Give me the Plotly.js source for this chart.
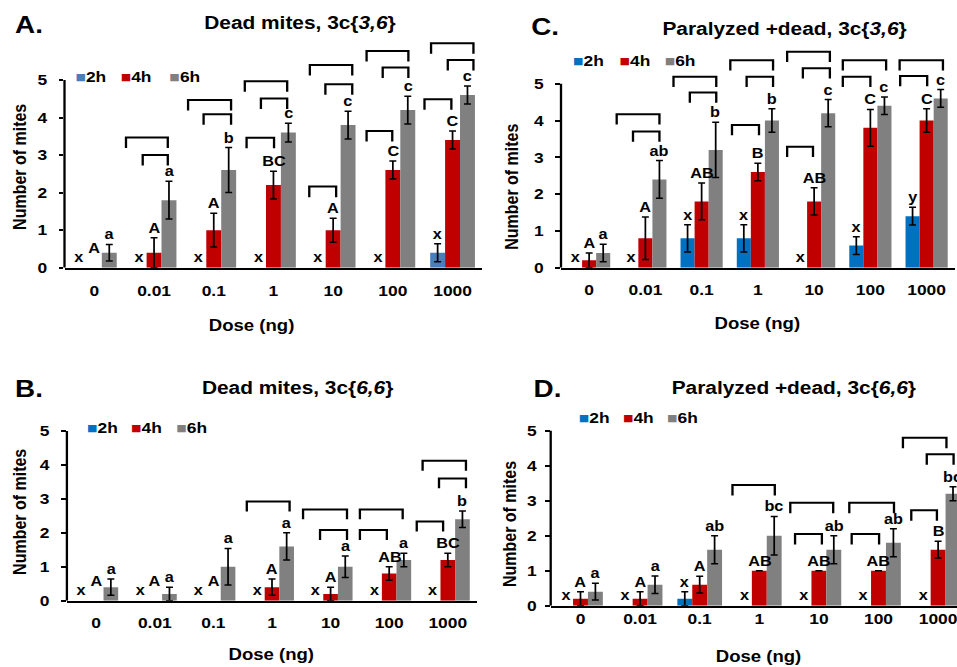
<!DOCTYPE html>
<html><head><meta charset="utf-8">
<script src="https://cdn.plot.ly/plotly-3.0.1.min.js"></script>
<style>
html,body{margin:0;padding:0;overflow:hidden;background:#fff}
#wrap{width:957px;height:667px;overflow:hidden}
#chart{width:825px;height:667px;transform:scaleX(1.16);transform-origin:0 0}
</style></head><body><div id="wrap"><div id="chart"></div></div>
<script>
// ---------- data ----------
const doses = ['0','0.01','0.1','1','10','100','1000'];
const seriesNames = ['2h','4h','6h'];

// A. Dead mites, 3c{3,6}
const A_2h = [0,0,0,0,0,0,0.4];
const A_2h_err = [0,0,0,0,0,0,0.24];
const A_4h = [0,0.4,1.0,2.2,1.0,2.6,3.4];
const A_4h_err = [0,0.4,0.45,0.37,0.32,0.24,0.24];
const A_6h = [0.4,1.8,2.6,3.6,3.8,4.2,4.6];
const A_6h_err = [0.22,0.5,0.6,0.25,0.37,0.37,0.24];
const A_lab2 = ['x','x','x','x','x','x','x'];
const A_lab4 = ['A','A','A','BC','A','C','C'];
const A_lab6 = ['a','a','b','c','c','c','c'];

// B. Dead mites, 3c{6,6}
const B_2h = [0,0,0,0,0,0,0];
const B_2h_err = [0,0,0,0,0,0,0];
const B_4h = [0,0,0,0.4,0.2,0.8,1.2];
const B_4h_err = [0,0,0,0.24,0.2,0.2,0.2];
const B_6h = [0.4,0.2,1.0,1.6,1.0,1.2,2.4];
const B_6h_err = [0.24,0.2,0.54,0.4,0.32,0.2,0.24];
const B_lab2 = ['x','x','x','x','x','x','x'];
const B_lab4 = ['A','A','A','A','A','AB','BC'];
const B_lab6 = ['a','a','a','a','a','a','b'];

// C. Paralyzed +dead, 3c{3,6}
const C_2h = [0,0,0.8,0.8,0,0.6,1.4];
const C_2h_err = [0,0,0.37,0.37,0,0.24,0.24];
const C_4h = [0.2,0.8,1.8,2.6,1.8,3.8,4.0];
const C_4h_err = [0.2,0.58,0.5,0.24,0.37,0.5,0.32];
const C_6h = [0.4,2.4,3.2,4.0,4.2,4.4,4.6];
const C_6h_err = [0.24,0.51,0.75,0.32,0.37,0.24,0.24];
const C_lab2 = ['x','x','x','x','x','x','y'];
const C_lab4 = ['A','A','AB','B','AB','C','C'];
const C_lab6 = ['a','ab','b','b','c','c','c'];

// D. Paralyzed +dead, 3c{6,6}
const D_2h = [0,0,0.2,0,0,0,0];
const D_2h_err = [0,0,0.2,0,0,0,0];
const D_4h = [0.2,0.2,0.6,1.0,1.0,1.0,1.6];
const D_4h_err = [0.2,0.2,0.24,0,0,0,0.24];
const D_6h = [0.4,0.6,1.6,2.0,1.6,1.8,3.2];
const D_6h_err = [0.24,0.25,0.4,0.55,0.4,0.4,0.2];
const D_lab2 = ['x','x','x','x','x','x','x'];
const D_lab4 = ['A','A','A','AB','AB','AB','B'];
const D_lab6 = ['a','a','ab','bc','ab','ab','bc'];

// significance brackets: [dose index, left offset, right offset, height]
const A_brackets = [[1,-0.47,0.23,3.47],[1,-0.19,0.23,3.0],[2,-0.43,0.29,4.47],[2,-0.17,0.29,4.09],
  [3,-0.48,0.23,4.97],[3,-0.21,0.23,4.51],[3,-0.45,0.01,3.46],[4,-0.39,0.32,5.4],[4,-0.13,0.32,4.89],
  [4,-0.4,0.05,2.16],[5,-0.44,0.26,5.77],[5,-0.17,0.26,5.33],[5,-0.44,-0.01,3.64],
  [6,-0.36,0.35,5.98],[6,-0.08,0.35,5.53],[6,-0.47,-0.02,4.49]];
const B_brackets = [[3,-0.43,0.3,2.92],[4,-0.47,0.28,2.69],[4,-0.18,0.28,2.08],[5,-0.5,0.23,2.69],
  [5,-0.5,-0.04,2.08],[6,-0.43,0.31,4.12],[6,-0.15,0.31,3.6],[6,-0.53,-0.08,2.33]];
const C_brackets = [[1,-0.51,0.25,4.17],[1,-0.22,0.25,3.7],[2,-0.5,0.26,5.19],[2,-0.21,0.26,4.76],
  [3,-0.49,0.27,5.64],[3,-0.2,0.27,5.19],[3,-0.46,0.02,3.88],[4,-0.48,0.28,5.87],[4,-0.2,0.28,5.42],
  [4,-0.48,-0.02,3.29],[5,-0.49,0.28,5.64],[5,-0.49,0.0,5.19],[6,-0.48,0.29,5.64],[6,-0.47,0.01,5.21]];
const D_brackets = [[3,-0.45,0.26,3.45],[4,-0.48,0.24,2.94],[4,-0.4,0.05,2.05],[5,-0.49,0.26,2.94],
  [5,-0.45,0.01,2.05],[6,-0.59,0.14,4.8],[6,-0.19,0.26,4.33],[6,-0.45,-0.02,2.73]];

// ---------- layout helpers ----------
const W = 957, H = 667;
const fx = px => px / W, fy = py => (H - py) / H;
const FONT = 'Liberation Sans, Arial, sans-serif';
const RED = '#C00000', GREY = '#808080';

const panels = [
  {xa:'x', ya:'y', x0:64.5, sp:59.7, xEnd:482.4, y0:267.7, unit:37.54, ymax:6.15, blue:'#4A7EBB',
   vals:[A_2h,A_4h,A_6h], errs:[A_2h_err,A_4h_err,A_6h_err], labs:[A_lab2,A_lab4,A_lab6], br:A_brackets, drop:0.28,
   letter:['A.',28.8,24.7], title:['Dead mites, 3c{<i>3,6</i>}',300,23.3], xt:[251.7,325], yt:[20,166.7],
   leg:[[72.7,118.3,166.7],77], xstand:8, ystand:7},
  {xa:'x2', ya:'y2', x0:66.9, sp:58.6, xEnd:477.1, y0:600.7, unit:33.94, ymax:5.1, blue:'#0070C0',
   vals:[B_2h,B_4h,B_6h], errs:[B_2h_err,B_4h_err,B_6h_err], labs:[B_lab2,B_lab4,B_lab6], br:B_brackets, drop:0.29,
   letter:['B.',28.8,388], title:['Dead mites, 3c{<i>6,6</i>}',297.7,387.5], xt:[271.3,654], yt:[20,511.7],
   leg:[[85,129.3,174],427.3], xstand:7, ystand:7},
  {xa:'x3', ya:'y3', x0:561, sp:56.25, xEnd:954.75, y0:267.7, unit:36.8, ymax:6.05, blue:'#0070C0',
   vals:[C_2h,C_4h,C_6h], errs:[C_2h_err,C_4h_err,C_6h_err], labs:[C_lab2,C_lab4,C_lab6], br:C_brackets, drop:0.28,
   letter:['C.',545.5,26.7], title:['Paralyzed +dead, 3c{<i>3,6</i>}',785,29], xt:[757.5,323.3], yt:[511.7,186.7],
   leg:[[570.7,616.7,662.7],60], xstand:7, ystand:7},
  {xa:'x4', ya:'y4', x0:550.7, sp:59.6, xEnd:957, y0:605.7, unit:35, ymax:5.1, blue:'#0070C0',
   vals:[D_2h,D_4h,D_6h], errs:[D_2h_err,D_4h_err,D_6h_err], labs:[D_lab2,D_lab4,D_lab6], br:D_brackets, drop:0.3,
   letter:['D.',547.5,388], title:['Paralyzed +dead, 3c{<i>6,6</i>}',794.3,387.5], xt:[758.8,656.7], yt:[509.7,523.7],
   leg:[[576,620.7,665],417.7], xstand:-2, ystand:4}
];

const idx = doses.map((_, i) => i);
const offsets = [-0.25, 0, 0.25];
const traces = [], shapes = [], annotations = [];
const layout = {
  width: 825, height: 667, margin:{l:0,r:0,t:0,b:0,pad:0},
  paper_bgcolor:'#fff', plot_bgcolor:'rgba(0,0,0,0)',
  barmode:'group', bargap:0.25, bargroupgap:0, showlegend:false,
  font:{family:FONT, color:'#000', weight:'bold'}
};
const txt = (text, x, y, size, extra) => Object.assign({text, xref:'paper', yref:'paper', x:fx(x), y:fy(y),
  xanchor:'center', yanchor:'middle', showarrow:false, font:{family:FONT, size, color:'#000', weight:'bold'}}, extra||{});

panels.forEach(p => {
  const colors = [p.blue, RED, GREY];
  const xname = p.xa === 'x' ? 'xaxis' : 'xaxis' + p.xa.slice(1);
  const yname = p.ya === 'y' ? 'yaxis' : 'yaxis' + p.ya.slice(1);
  const topPx = p.y0 - p.ymax * p.unit;
  layout[xname] = {domain:[fx(p.x0), fx(p.xEnd)], anchor:p.ya, range:[-0.5, -0.5 + (p.xEnd - p.x0)/p.sp],
    tickvals: idx, ticktext: doses, showline:true, linecolor:'#000', linewidth:2, ticks:'',
    showgrid:false, zeroline:false, ticklabelstandoff:p.xstand, ticklabeloverflow:'allow',
    tickfont:{family:FONT, size:15, color:'#000', weight:'bold'}, fixedrange:true};
  layout[yname] = {domain:[fy(p.y0), fy(topPx)], anchor:p.xa, range:[0, p.ymax], tickvals:[0,1,2,3,4,5],
    showline:false, ticks:'outside', ticklen:4, tickwidth:2, tickcolor:'#000', showgrid:false, zeroline:false,
    ticklabelstandoff:p.ystand, tickfont:{family:FONT, size:15, color:'#000', weight:'bold'}, fixedrange:true};
  for (let s = 0; s < 3; s++) {
    // no error bar is drawn where the bar itself is empty
    const errShown = p.errs[s].map((e, i) => (p.vals[s][i] === 0 ? NaN : e));
    traces.push({type:'bar', x: idx, y: p.vals[s], name: seriesNames[s], xaxis:p.xa, yaxis:p.ya,
      marker:{color: colors[s], line:{width:0}},
      error_y:{type:'data', array:errShown, visible:true, color:'#000', thickness:1.5, width:3}});
    p.labs[s].forEach((lab, i) => {
      const v = p.vals[s][i], e = p.errs[s][i];
      annotations.push({text: lab, xref:p.xa, yref:p.ya, x: i + offsets[s], y: v + e,
        xanchor:'center', yanchor:'bottom', showarrow:false, borderpad:0,
        yshift: v === 0 ? (s === 1 ? 11 : 2) : 1,
        font:{family:FONT, size:14, color:'#000', weight:'bold'}});
    });
  }
  shapes.push({type:'line', xref:p.xa + ' domain', x0:0, x1:0, yref:p.ya, y0:0, y1:5,
    line:{color:'#000', width:2}});
  p.br.forEach(b => {
    const [i, a, c, yt] = b;
    shapes.push({type:'path', xref:p.xa, yref:p.ya,
      path:`M${i+a},${yt-p.drop} L${i+a},${yt} L${i+c},${yt} L${i+c},${yt-p.drop}`,
      line:{color:'#000', width:2}});
  });
  annotations.push(txt(p.letter[0], p.letter[1], p.letter[2], 24));
  annotations.push(txt(p.title[0], p.title[1], p.title[2], 18));
  annotations.push(txt('Dose (ng)', p.xt[0], p.xt[1], 16));
  annotations.push(txt('Number of mites', p.yt[0], p.yt[1], 16, {textangle:-90}));
  seriesNames.forEach((n, s) => {
    annotations.push(txt(`<span style="color:${colors[s]}">■</span>${n}`, p.leg[0][s], p.leg[1], 15, {xanchor:'left'}));
  });
});
layout.shapes = shapes;
layout.annotations = annotations;
Plotly.newPlot('chart', traces, layout, {staticPlot:true, displayModeBar:false});
</script></body></html>
